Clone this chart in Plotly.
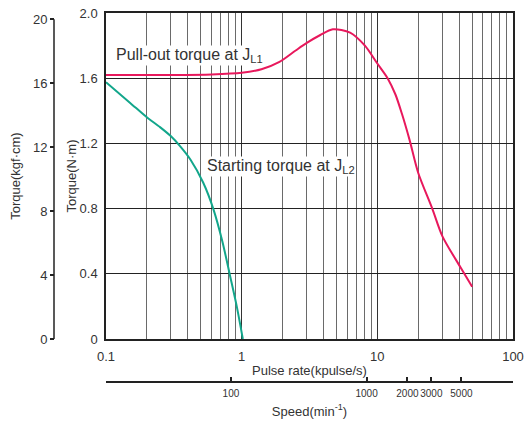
import plotly.graph_objects as go
import math

# Data
pullout_x = [0.1, 0.3, 0.6, 1.0, 1.4, 1.9, 2.5, 3.0, 3.8, 4.7, 6.3, 8.1, 10, 11.9, 13.6, 15.2, 17.3, 20, 25.4, 30.2, 41, 50]
pullout_y = [1.62, 1.62, 1.623, 1.633, 1.655, 1.70, 1.77, 1.815, 1.865, 1.90, 1.88, 1.80, 1.69, 1.60, 1.50, 1.38, 1.22, 1.02, 0.80, 0.63, 0.44, 0.32]

start_x = [0.1, 0.15, 0.2, 0.25, 0.3, 0.35, 0.42, 0.52, 0.617, 0.72, 0.82, 0.92, 1.02]
start_y = [1.575, 1.45, 1.36, 1.30, 1.245, 1.185, 1.10, 0.96, 0.80, 0.60, 0.39, 0.20, 0.0]

nm_ticks = [0, 0.4, 0.8, 1.2, 1.6, 2.0]
nm_labels = ["0", "0.4", "0.8", "1.2", "1.6", "2.0"]
kgf_ticks = [0, 4, 8, 12, 16, 20]
pulse_ticks = [0.1, 1, 10, 100]
pulse_labels = ["0.1", "1", "10", "100"]
minor_grid = [m * d for d in [0.1, 1, 10] for m in range(2, 10)]
speed_ticks = [100, 1000, 2000, 3000, 5000]
speed_labels = ["100", "1000", "2000", "3000", "5000"]

PPR = 500  # pulses per revolution
NM_TO_KGFCM = 10.197

W, H = 526, 422
ml, mr, mt, mb = 10, 13, 13, 5
pw, ph = W - ml - mr, H - mt - mb
x_dom0 = (106 - ml) / pw
y_dom0 = (H - mb - 339) / ph
kgf_pos = (54 - ml) / pw
speed_pos = (H - mb - 382) / ph

FONT = "Liberation Sans"
TXT = "#333333"
RED = "#E8185C"
TEAL = "#12A68B"

fig = go.Figure()
fig.add_trace(go.Scatter(x=pullout_x, y=pullout_y, mode="lines", line=dict(color=RED, width=2, shape="spline", smoothing=0.8),
                         showlegend=False, hoverinfo="skip"))
fig.add_trace(go.Scatter(x=start_x, y=start_y, mode="lines", line=dict(color=TEAL, width=2, shape="spline", smoothing=0.8),
                         showlegend=False, hoverinfo="skip"))
# dummy traces to activate secondary axes
fig.add_trace(go.Scatter(x=[None], y=[None], yaxis="y2", showlegend=False, hoverinfo="skip"))
fig.add_trace(go.Scatter(x=[None], y=[None], xaxis="x2", showlegend=False, hoverinfo="skip"))

speed_min = 0.1 * 1000 * 60 / PPR
speed_max = 100 * 1000 * 60 / PPR

fig.update_layout(
    width=W, height=H,
    margin=dict(l=ml, r=mr, t=mt, b=mb, autoexpand=False),
    paper_bgcolor="white", plot_bgcolor="white",
    font=dict(family=FONT, size=12, color=TXT),
    xaxis=dict(type="log", domain=[x_dom0, 1], range=[-1, 2], automargin=False,
               tickvals=pulse_ticks, ticktext=pulse_labels, ticks="",
               showgrid=True, gridcolor="#333333", gridwidth=1,
               minor=dict(tickvals=minor_grid, showgrid=True, gridcolor="#6a6a6a", gridwidth=1, ticks=""),
               showline=True, linecolor="#222222", linewidth=1.5, mirror=True,
               tickfont=dict(size=13, color=TXT), ticklabelstandoff=5,
               title=dict(text="Pulse rate(kpulse/s)", font=dict(size=13, color=TXT), standoff=3),
               zeroline=False, anchor="y"),
    yaxis=dict(domain=[y_dom0, 1], range=[0, 2.0], automargin=False,
               tickvals=nm_ticks, ticktext=nm_labels, ticks="",
               showgrid=True, gridcolor="#222222", gridwidth=1.2,
               showline=True, linecolor="#222222", linewidth=1.5, mirror=True,
               tickfont=dict(size=13, color=TXT),
               title=dict(text="Torque(N·m)", font=dict(size=13, color=TXT), standoff=0),
               zeroline=False, ticklabelstandoff=4),
    yaxis2=dict(overlaying="y", anchor="free", position=kgf_pos, side="left", automargin=False,
                range=[0, 2.0 * NM_TO_KGFCM], tickvals=kgf_ticks,
                ticks="outside", ticklen=4, tickcolor="#222222", tickwidth=1.5,
                showgrid=False, showline=False, zeroline=False,
                tickfont=dict(size=13, color=TXT),
                title=dict(text="Torque(kgf·cm)", font=dict(size=13, color=TXT), standoff=8)),
    xaxis2=dict(type="log", overlaying="x", anchor="free", position=speed_pos, side="bottom", automargin=False,
                range=[math.log10(speed_min), math.log10(speed_max)],
                tickvals=speed_ticks, ticktext=speed_labels, tickangle=0,
                ticks="inside", ticklen=4, tickcolor="#222222", tickwidth=1.5,
                showgrid=False, showline=True, linecolor="#222222", linewidth=1.5, zeroline=False,
                tickfont=dict(size=10, color=TXT), ticklabelstandoff=2,
                title=dict(text="Speed(min<sup>-1</sup>)", font=dict(size=13, color=TXT), standoff=8)),
    shapes=[dict(type="line", xref="paper", yref="y2", x0=kgf_pos, x1=kgf_pos, y0=0, y1=20,
                 line=dict(color="#222222", width=1.5))],
    annotations=[
        dict(text="Pull-out torque at J<sub>L1</sub>", x=-1 + (115 - 106) / 135.5, y=1.74,
             xref="x", yref="y", xanchor="left", yanchor="middle", showarrow=False,
             bgcolor="white", borderpad=0, font=dict(size=16, color=TXT)),
        dict(text="Starting torque at J<sub>L2</sub>", x=-1 + (206 - 106) / 135.5, y=1.06,
             xref="x", yref="y", xanchor="left", yanchor="middle", showarrow=False,
             bgcolor="white", borderpad=0, font=dict(size=16, color=TXT)),
    ],
)

fig.write_html("out.html")
